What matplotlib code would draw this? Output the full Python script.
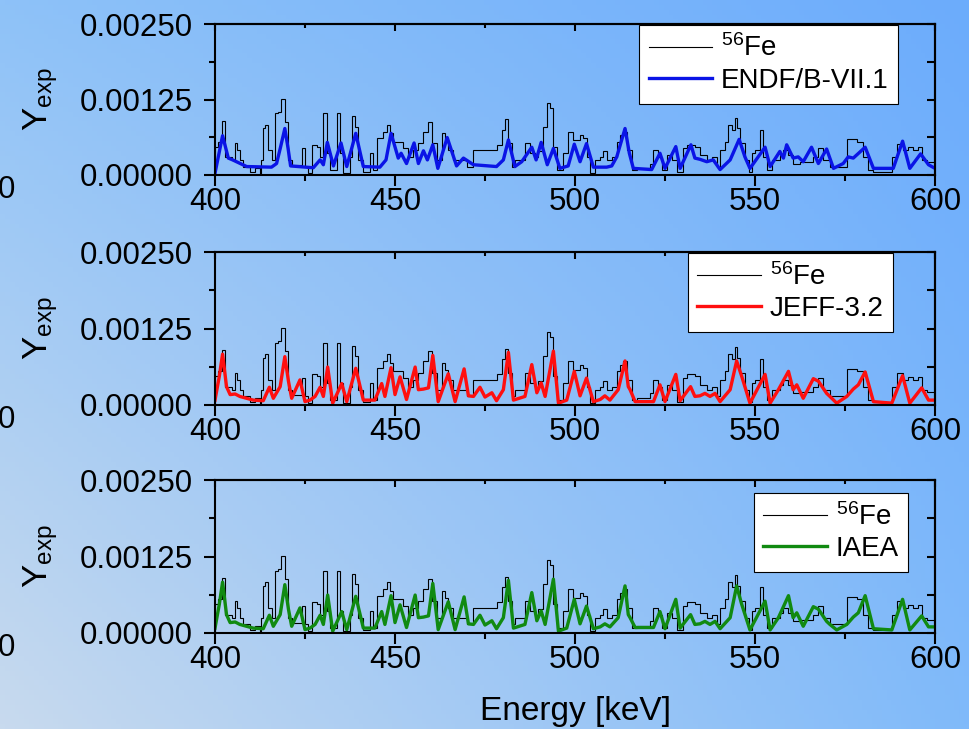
import numpy as np
import matplotlib
matplotlib.use("Agg")
import matplotlib.pyplot as plt
from matplotlib.ticker import MultipleLocator, FormatStrFormatter

plt.rcParams['font.family'] = ['Liberation Sans', 'DejaVu Sans']
plt.rcParams['mathtext.fontset'] = 'custom'
plt.rcParams['mathtext.rm'] = 'Liberation Sans'
plt.rcParams['mathtext.it'] = 'Liberation Sans:italic'

# measured 56Fe yield, step histogram (keV edges, values in 1e-3)
exp_edges = [400.0, 400.9, 401.9, 402.8, 403.7, 404.6, 405.6, 406.0, 406.9, 407.9,
             409.7, 411.1, 412.5, 412.9, 413.4, 413.9, 414.8, 415.7, 416.7, 417.6,
             418.2, 419.4, 420.4, 421.3, 424.1, 425.0, 425.9, 426.9, 428.2, 429.2,
             430.1, 431.0, 431.9, 433.8, 434.7, 435.6, 437.5, 438.0, 438.9, 439.8,
             441.2, 443.1, 444.0, 444.9, 446.8, 447.7, 448.6, 449.5, 452.3, 453.7,
             455.1, 456.5, 457.9, 459.3, 460.2, 461.6, 463.0, 463.9, 464.8, 466.2,
             469.9, 471.8, 478.2, 479.6, 480.6, 481.5, 482.4, 483.3, 486.1, 487.5,
             488.9, 489.8, 491.2, 492.1, 493.1, 494.0, 494.9, 496.8, 498.1, 499.5,
             501.4, 502.3, 503.2, 504.2, 505.6, 507.0, 507.9, 508.8, 510.2, 511.6,
             512.5, 513.4, 514.4, 515.7, 517.1, 520.8, 521.8, 523.1, 524.1, 525.5,
             526.9, 528.2, 530.1, 531.0, 533.3, 534.7, 536.6, 538.0, 539.4, 540.3,
             541.7, 542.6, 543.5, 544.4, 545.1, 545.8, 547.2, 548.2, 549.1, 550.0,
             551.4, 552.3, 553.2, 554.6, 556.9, 557.9, 559.3, 560.6, 562.5, 566.2,
             567.6, 569.0, 570.8, 572.7, 575.5, 578.2, 580.1, 581.5, 582.9, 588.0,
             589.4, 591.2, 592.6, 594.0, 595.4, 596.3, 597.7, 600.0]
exp_vals = [0.47, 0.55, 0.90, 0.30, 0.30, 0.25, 0.53, 0.41, 0.25, 0.14,
            0.055, 0.11, 0.0, 0.25, 0.77, 0.83, 0.41, 0.25, 1.02, 1.05,
            1.26, 0.88, 0.25, 0.16, 0.44, 0.14, 0.03, 0.50, 0.47, 0.30,
            1.02, 0.36, 0.08, 1.02, 0.36, 0.03, 0.30, 0.97, 0.80, 0.25,
            0.055, 0.36, 0.08, 0.61, 0.72, 0.83, 0.69, 0.55, 0.44, 0.30,
            0.41, 0.53, 0.72, 0.88, 0.53, 0.25, 0.69, 0.58, 0.41, 0.25,
            0.14, 0.41, 0.50, 0.75, 0.92, 0.53, 0.14, 0.25, 0.53, 0.36,
            0.30, 0.39, 0.80, 1.20, 1.11, 0.47, 0.08, 0.36, 0.72, 0.58,
            0.66, 0.61, 0.30, 0.03, 0.25, 0.30, 0.39, 0.25, 0.30, 0.55,
            0.66, 0.72, 0.41, 0.08, 0.11, 0.19, 0.41, 0.30, 0.08, 0.33,
            0.25, 0.055, 0.44, 0.50, 0.47, 0.33, 0.25, 0.30, 0.14, 0.41,
            0.55, 0.83, 0.75, 0.94, 0.77, 0.53, 0.25, 0.055, 0.36, 0.41,
            0.75, 0.30, 0.08, 0.25, 0.33, 0.41, 0.33, 0.19, 0.22, 0.30,
            0.44, 0.25, 0.14, 0.14, 0.59, 0.55, 0.30, 0.08, 0.055, 0.30,
            0.52, 0.41, 0.46, 0.41, 0.46, 0.25, 0.22]

# ENDF/B-VII.1 calculated yield
endf_e = [400.0, 402.1, 403.7, 404.9, 408.8, 415.7, 417.1, 418.2, 419.4, 420.3,
          421.0, 427.3, 429.2, 430.1, 431.2, 432.9, 435.0, 436.6, 439.1, 441.2,
          445.8, 447.5, 448.9, 450.9, 451.7, 453.2, 455.3, 456.5, 457.9, 459.0,
          460.5, 461.9, 464.5, 467.1, 469.0, 471.8, 478.2, 480.1, 481.5, 483.3,
          485.2, 488.0, 489.2, 490.6, 492.3, 494.0, 495.8, 498.1, 499.8, 501.4,
          503.2, 505.1, 508.8, 510.2, 511.6, 513.9, 515.1, 516.2, 521.3, 523.6,
          525.0, 528.0, 529.2, 532.2, 533.3, 534.7, 536.6, 538.4, 540.3, 543.1,
          545.6, 547.2, 548.6, 552.8, 554.2, 556.9, 557.9, 558.8, 560.6, 562.0,
          563.4, 565.7, 567.6, 569.9, 571.8, 574.5, 575.9, 577.3, 580.6, 582.9,
          588.4, 591.0, 593.0, 596.0, 598.2, 600.0]
endf_y = [0.03, 0.65, 0.28, 0.25, 0.14, 0.13, 0.19, 0.46, 0.77, 0.44,
          0.15, 0.12, 0.25, 0.17, 0.54, 0.15, 0.53, 0.14, 0.69, 0.14,
          0.13, 0.25, 0.69, 0.28, 0.36, 0.19, 0.53, 0.19, 0.40, 0.25,
          0.50, 0.11, 0.62, 0.15, 0.28, 0.17, 0.14, 0.25, 0.58, 0.14,
          0.22, 0.46, 0.25, 0.54, 0.17, 0.44, 0.11, 0.15, 0.51, 0.22,
          0.52, 0.13, 0.13, 0.15, 0.30, 0.77, 0.36, 0.11, 0.09, 0.36,
          0.11, 0.47, 0.11, 0.50, 0.28, 0.26, 0.22, 0.25, 0.09, 0.25,
          0.59, 0.30, 0.11, 0.46, 0.14, 0.39, 0.28, 0.50, 0.28, 0.30,
          0.22, 0.46, 0.19, 0.43, 0.11, 0.19, 0.30, 0.28, 0.46, 0.11,
          0.11, 0.56, 0.11, 0.35, 0.17, 0.11]

# JEFF-3.2 calculated yield
jeff_e = [400.0, 401.2, 402.1, 403.2, 404.2, 405.6, 406.9, 410.6, 413.4, 415.1,
          416.2, 418.1, 419.4, 420.4, 421.3, 423.6, 425.0, 426.4, 427.8, 429.2,
          430.1, 431.3, 432.7, 435.2, 436.6, 439.1, 441.2, 444.4, 446.3, 447.2,
          448.9, 450.0, 451.4, 453.2, 455.6, 456.5, 457.9, 459.3, 460.5, 462.0,
          464.8, 466.7, 469.2, 470.4, 471.8, 473.6, 475.0, 476.9, 478.2, 480.1,
          481.5, 482.9, 486.1, 488.0, 489.4, 490.6, 491.7, 494.0, 495.4, 497.7,
          499.8, 501.4, 503.2, 505.1, 507.0, 508.3, 509.7, 512.0, 513.9, 514.8,
          515.3, 516.7, 521.8, 523.6, 525.0, 528.0, 529.2, 532.1, 533.3, 534.7,
          536.1, 537.5, 538.9, 540.3, 543.1, 544.9, 546.3, 548.6, 552.8, 554.2,
          556.5, 559.3, 560.6, 561.6, 563.4, 566.2, 567.6, 569.9, 570.8, 572.7,
          575.5, 577.3, 578.7, 580.6, 582.9, 588.0, 591.0, 593.0, 596.3, 598.2,
          600.0]
jeff_y = [0.08, 0.47, 0.83, 0.30, 0.17, 0.18, 0.14, 0.08, 0.07, 0.29,
          0.11, 0.30, 0.79, 0.39, 0.11, 0.41, 0.055, 0.08, 0.14, 0.29,
          0.14, 0.62, 0.03, 0.35, 0.055, 0.60, 0.08, 0.08, 0.35, 0.14,
          0.61, 0.17, 0.46, 0.09, 0.62, 0.25, 0.26, 0.28, 0.81, 0.055,
          0.51, 0.055, 0.59, 0.15, 0.14, 0.29, 0.13, 0.20, 0.07, 0.25,
          0.86, 0.08, 0.14, 0.66, 0.20, 0.36, 0.14, 0.88, 0.03, 0.08,
          0.55, 0.15, 0.44, 0.055, 0.09, 0.15, 0.08, 0.25, 0.72, 0.30,
          0.25, 0.055, 0.055, 0.33, 0.055, 0.50, 0.07, 0.30, 0.14, 0.15,
          0.19, 0.14, 0.19, 0.055, 0.25, 0.72, 0.47, 0.03, 0.50, 0.03,
          0.25, 0.55, 0.25, 0.33, 0.11, 0.43, 0.39, 0.19, 0.14, 0.03,
          0.14, 0.26, 0.33, 0.54, 0.055, 0.03, 0.48, 0.03, 0.28, 0.08,
          0.08]

# IAEA calculated yield
iaea_e = list(jeff_e)
iaea_y = [0.08, 0.47, 0.83, 0.30, 0.17, 0.18, 0.14, 0.08, 0.07, 0.29,
          0.11, 0.30, 0.79, 0.39, 0.11, 0.41, 0.055, 0.08, 0.14, 0.29,
          0.14, 0.62, 0.03, 0.35, 0.055, 0.60, 0.08, 0.08, 0.35, 0.14,
          0.61, 0.17, 0.46, 0.09, 0.62, 0.25, 0.26, 0.28, 0.81, 0.055,
          0.51, 0.055, 0.59, 0.15, 0.14, 0.29, 0.13, 0.20, 0.07, 0.25,
          0.86, 0.08, 0.14, 0.66, 0.20, 0.36, 0.14, 0.88, 0.03, 0.08,
          0.55, 0.15, 0.44, 0.07, 0.10, 0.15, 0.10, 0.25, 0.77, 0.30,
          0.25, 0.09, 0.09, 0.35, 0.07, 0.55, 0.08, 0.30, 0.14, 0.15,
          0.19, 0.14, 0.19, 0.07, 0.25, 0.77, 0.47, 0.05, 0.52, 0.05,
          0.25, 0.61, 0.25, 0.33, 0.11, 0.43, 0.39, 0.19, 0.14, 0.05,
          0.14, 0.26, 0.33, 0.61, 0.07, 0.05, 0.55, 0.05, 0.28, 0.10,
          0.10]

panels = [
    (endf_e, endf_y, '#0a14e6', 'ENDF/B-VII.1', (0.949, 0.995)),
    (jeff_e, jeff_y, '#ff0f0f', 'JEFF-3.2', (0.942, 0.993)),
    (iaea_e, iaea_y, '#118a11', 'IAEA', (0.963, 0.915)),
]

W, H = 969, 729
fig = plt.figure(figsize=(W / 100, H / 100), dpi=100)

# gradient background
bg = fig.add_axes([0, 0, 1, 1], zorder=-10)
tl = np.array([142, 194, 248]) / 255
tr = np.array([108, 172, 252]) / 255
bl = np.array([200, 218, 238]) / 255
br = np.array([128, 186, 250]) / 255
gx = np.linspace(0, 1, 200)[None, :, None]
gy = np.linspace(0, 1, 150)[:, None, None]
grad = (1 - gy) * ((1 - gx) * tl + gx * tr) + gy * ((1 - gx) * bl + gx * br)
bg.imshow(grad, aspect='auto', extent=[0, 1, 0, 1])
bg.axis('off')

tops = [24, 252, 480]
heights = [151, 153, 153]
left = 215 / W
width = 720 / W

for i, (ce, cy, col, name, anchor) in enumerate(panels):
    bottom = 1 - (tops[i] + heights[i]) / H
    ax = fig.add_axes([left, bottom, width, heights[i] / H])
    ax.patch.set_alpha(0)

    ax.stairs(np.array(exp_vals) * 1e-3, exp_edges, color='black', lw=0.8,
              label=r'$^{\mathregular{56}}$Fe')
    ax.plot(ce, np.array(cy) * 1e-3, color=col, lw=2.4, label=name,
            solid_joinstyle='round')

    ax.set_xlim(400, 600)
    ax.set_ylim(0, 0.0025)
    ax.xaxis.set_major_locator(MultipleLocator(50))
    ax.xaxis.set_minor_locator(MultipleLocator(25))
    ax.yaxis.set_major_locator(MultipleLocator(0.00125))
    ax.yaxis.set_minor_locator(MultipleLocator(0.000625))
    ax.yaxis.set_major_formatter(FormatStrFormatter('%.5f'))
    for s in ax.spines.values():
        s.set_linewidth(1.5)
    ax.tick_params(which='both', direction='out', width=1.5, labelsize=22.5)
    ax.tick_params(which='major', length=8)
    ax.tick_params(which='minor', length=4)
    ax.tick_params(axis='x', pad=1)
    ax.tick_params(axis='y', pad=8)

    # mirrored inward ticks on top and right
    sx = ax.secondary_xaxis('top')
    sx.xaxis.set_major_locator(MultipleLocator(50))
    sx.xaxis.set_minor_locator(MultipleLocator(25))
    sx.tick_params(which='both', direction='in', width=1.5, labeltop=False)
    sx.tick_params(which='major', length=5)
    sx.tick_params(which='minor', length=3)
    sx.spines['top'].set_linewidth(1.5)
    sy = ax.secondary_yaxis('right')
    sy.yaxis.set_major_locator(MultipleLocator(0.00125))
    sy.yaxis.set_minor_locator(MultipleLocator(0.000625))
    sy.tick_params(which='both', direction='in', width=1.5, labelright=False)
    sy.tick_params(which='major', length=6)
    sy.tick_params(which='minor', length=6)
    sy.spines['right'].set_linewidth(1.5)

    ax.set_ylabel(r'$\mathregular{Y_{exp}}$', fontsize=25)
    ax.yaxis.set_label_coords(-0.215, 0.5)

    leg = ax.legend(loc='upper right', bbox_to_anchor=anchor, borderaxespad=0,
                    fontsize=20, fancybox=False, framealpha=1, edgecolor='black',
                    handlelength=2.3, handletextpad=0.3, borderpad=0.35,
                    labelspacing=0.2)
    leg.get_frame().set_linewidth(0.8)
    leg.get_frame().set_facecolor('white')

    # clipped leftover label at the figure edge
    fig.text(15 / W, 1 - (tops[i] + heights[i] + 15) / H, '0', ha='right',
             va='center', fontsize=22.5)

    if i == 2:
        ax.set_xlabel('Energy [keV]', fontsize=24, labelpad=15)

fig.savefig('out.png', dpi=100)
